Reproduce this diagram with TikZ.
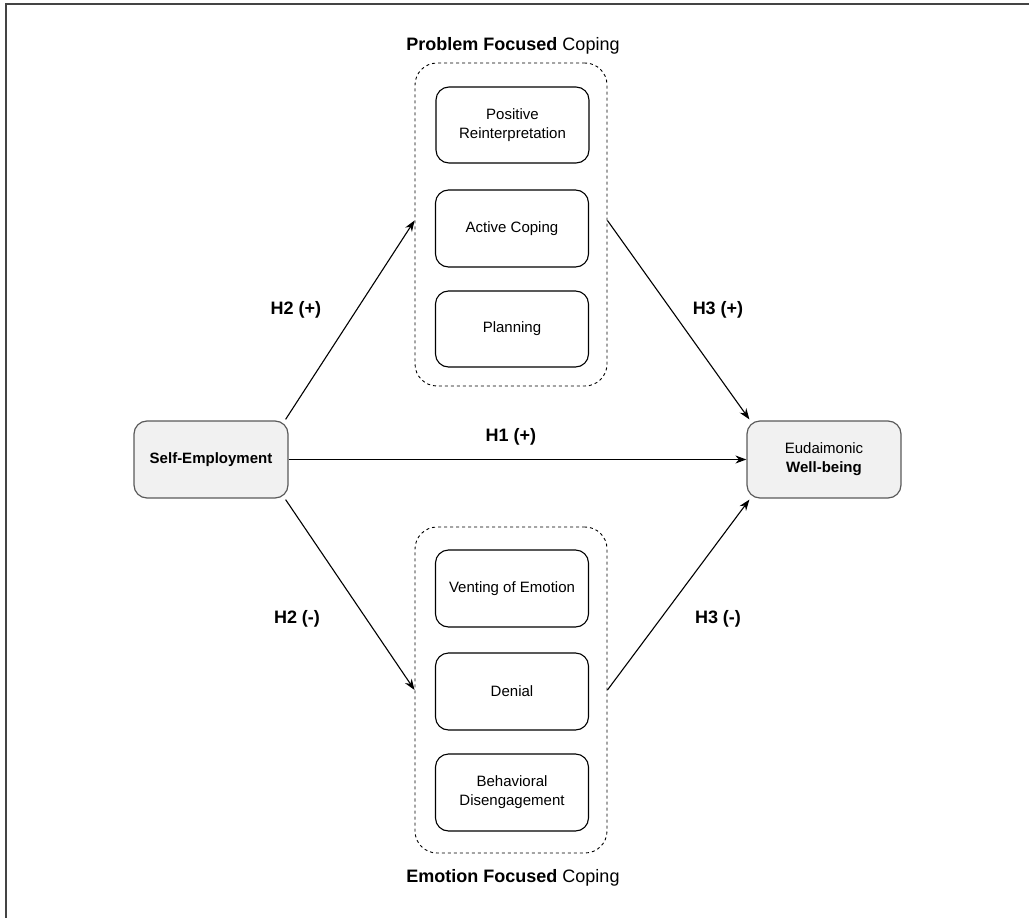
\documentclass[tikz,border=0pt]{standalone}
\usepackage{fontspec}
\setmainfont{Liberation Sans}
\usetikzlibrary{arrows.meta}
\definecolor{boxfill}{HTML}{F1F1F1}
\definecolor{boxline}{HTML}{5A5A5A}
\definecolor{framecol}{HTML}{444444}
\begin{document}
\begin{tikzpicture}[x=1pt,y=-1pt,
  every node/.style={font=\fontsize{15}{19}\selectfont, align=center},
  mainbox/.style={draw=boxline, fill=boxfill, line width=1.2pt, rounded corners=13pt, minimum width=154pt, minimum height=77pt, inner sep=0pt},
  itembox/.style={draw=black, line width=1.1pt, rounded corners=13pt, minimum width=153pt, minimum height=76pt, inner sep=0pt},
  groupbox/.style={draw=black, line width=0.9pt, dash pattern=on 3pt off 3pt, rounded corners=22pt, minimum width=192pt, inner sep=0pt},
  conn/.style={line width=1.1pt, -{Stealth[length=11pt,width=8pt]}},
  hlabel/.style={font=\fontsize{18}{21}\selectfont\bfseries},
  titlelabel/.style={font=\fontsize{18}{21}\selectfont}
]
\useasboundingbox (0,0) rectangle (1029,918);
\draw[framecol, line width=2pt] (6,918) |- (1029,4);

\node[groupbox, minimum height=323pt] (topc) at (511,224.5) {};
\node[groupbox, minimum height=326pt] (botc) at (511,690) {};

\node[itembox] (pr) at (512.5,125) {Positive\\Reinterpretation};
\node[itembox, minimum height=77pt] (ac) at (512,228.5) {Active Coping};
\node[itembox] (pl) at (512,329) {Planning};

\node[itembox, minimum height=77pt] (ve) at (512,588.5) {Venting of Emotion};
\node[itembox, minimum height=77pt] (de) at (512,691.5) {Denial};
\node[itembox, minimum height=77pt] (bd) at (512,792.5) {Behavioral\\Disengagement};

\node[mainbox] (se) at (211,459.5) {\bfseries Self-Employment};
\node[mainbox] (ew) at (824,459.5) {Eudaimonic\\\bfseries Well-being};

\node[titlelabel] (ttop) at (513,46) {\bfseries Problem Focused\mdseries{} Coping};
\node[titlelabel] (tbot) at (513,878) {\bfseries Emotion Focused\mdseries{} Coping};

\draw[conn] ([xshift=-3pt,yshift=1pt]se.north east) -- ([yshift=4pt]topc.west);
\draw[conn] ([xshift=-3pt,yshift=-1pt]se.south east) -- (botc.west);
\draw[conn] ([yshift=4pt]topc.east) -- ([xshift=3pt,yshift=1pt]ew.north west);
\draw[conn] (botc.east) -- ([xshift=3pt,yshift=-1pt]ew.south west);
\draw[conn] (se.east) -- (ew.west);

\node[hlabel] (h2p) at (296,310) {H2 (+)};
\node[hlabel] (h3p) at (718,310) {H3 (+)};
\node[hlabel] (h1p) at (511,437) {H1 (+)};
\node[hlabel] (h2m) at (297,619) {H2 (-)};
\node[hlabel] (h3m) at (718,619) {H3 (-)};
\end{tikzpicture}
\end{document}
